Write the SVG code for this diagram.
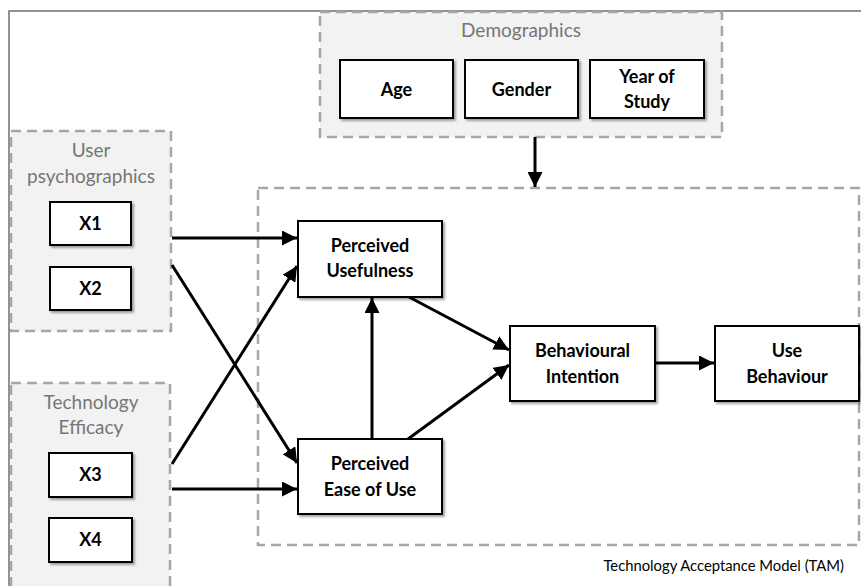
<svg xmlns="http://www.w3.org/2000/svg" width="861" height="586" viewBox="0 0 861 586">
  <defs>
    <marker id="arrow" viewBox="0 0 10 10" refX="10" refY="5" markerWidth="5" markerHeight="5" orient="auto" markerUnits="strokeWidth">
      <path d="M0,0 L10,5 L0,10 z" fill="#000"/>
    </marker>
    <filter id="shadow" x="-10%" y="-10%" width="130%" height="130%">
      <feDropShadow dx="2" dy="2" stdDeviation="1" flood-color="#000" flood-opacity="0.35"/>
    </filter>
  </defs>
  <style>
    .group { fill: #f2f2f2; stroke: #a6a6a6; stroke-width: 2.5; stroke-dasharray: 10 6; }
    .frame { fill: none; stroke: #a6a6a6; stroke-width: 2.5; stroke-dasharray: 10 6; }
    .box { fill: #fff; stroke: #000; stroke-width: 2; filter: url(#shadow); }
    .title { font-family: Lato, "Liberation Sans", sans-serif; font-size: 19px; fill: #767676; text-anchor: middle; }
    .label { font-family: Lato, "Liberation Sans", sans-serif; font-size: 18px; font-weight: bold; fill: #000; text-anchor: middle; }
    .caption { font-family: Lato, "Liberation Sans", sans-serif; font-size: 14.8px; fill: #000; text-anchor: end; }
    .edge { stroke: #000; stroke-width: 3; fill: none; marker-end: url(#arrow); }
  </style>

  <rect width="861" height="586" fill="#fff"/>
  <!-- page border -->
  <path d="M9,586 L9,11 L861,11" fill="none" stroke="#6f6f6f" stroke-width="1.5"/>

  <!-- TAM frame -->
  <g id="tam">
    <rect class="frame" x="258" y="188" width="601" height="357"/>
    <text class="caption" x="844" y="571">Technology Acceptance Model (TAM)</text>
  </g>

  <!-- Demographics -->
  <g id="demographics">
    <rect class="group" x="320" y="12" width="402" height="125"/>
    <text class="title" x="521" y="37">Demographics</text>
  </g>
  <g id="age">
    <rect class="box" x="340" y="60" width="113" height="58"/>
    <text class="label" x="396.5" y="96">Age</text>
  </g>
  <g id="gender">
    <rect class="box" x="465" y="60" width="113" height="58"/>
    <text class="label" x="521.5" y="96">Gender</text>
  </g>
  <g id="year">
    <rect class="box" x="590" y="60" width="114" height="58"/>
    <text class="label" x="647" y="83">Year of</text>
    <text class="label" x="647" y="108">Study</text>
  </g>

  <!-- User psychographics -->
  <g id="psychographics">
    <rect class="group" x="11" y="131" width="160" height="200"/>
    <text class="title" x="91" y="157">User</text>
    <text class="title" x="91" y="183">psychographics</text>
  </g>
  <g id="x1">
    <rect class="box" x="50" y="202" width="81" height="43"/>
    <text class="label" x="90.5" y="230">X1</text>
  </g>
  <g id="x2">
    <rect class="box" x="50" y="267" width="81" height="43"/>
    <text class="label" x="90.5" y="295">X2</text>
  </g>

  <!-- Technology Efficacy -->
  <g id="efficacy">
    <rect class="group" x="11" y="383" width="159" height="215"/>
    <text class="title" x="91" y="409">Technology</text>
    <text class="title" x="91" y="434">Efficacy</text>
  </g>
  <g id="x3">
    <rect class="box" x="49" y="453" width="83" height="44"/>
    <text class="label" x="90.5" y="481">X3</text>
  </g>
  <g id="x4">
    <rect class="box" x="49" y="518" width="83" height="44"/>
    <text class="label" x="90.5" y="546">X4</text>
  </g>

  <!-- TAM constructs -->
  <g id="pu">
    <rect class="box" x="298" y="221" width="144" height="76"/>
    <text class="label" x="370" y="252">Perceived</text>
    <text class="label" x="370" y="277">Usefulness</text>
  </g>
  <g id="peou">
    <rect class="box" x="298" y="439" width="144" height="75"/>
    <text class="label" x="370" y="470">Perceived</text>
    <text class="label" x="370" y="496">Ease of Use</text>
  </g>
  <g id="bi">
    <rect class="box" x="510" y="326" width="145" height="75"/>
    <text class="label" x="582.5" y="357">Behavioural</text>
    <text class="label" x="582.5" y="383">Intention</text>
  </g>
  <g id="ub">
    <rect class="box" x="715" y="326" width="144" height="75"/>
    <text class="label" x="787" y="357">Use</text>
    <text class="label" x="787" y="383">Behaviour</text>
  </g>

  <!-- connectors -->
  <g id="connectors">
    <line class="edge" x1="535" y1="137" x2="535" y2="187"/>
    <line class="edge" x1="172" y1="238" x2="297" y2="238"/>
    <line class="edge" x1="172" y1="265" x2="297" y2="463"/>
    <line class="edge" x1="172" y1="464" x2="297" y2="266"/>
    <line class="edge" x1="172" y1="489" x2="297" y2="489"/>
    <line class="edge" x1="372" y1="439" x2="372" y2="298"/>
    <line class="edge" x1="409" y1="297" x2="509" y2="350"/>
    <line class="edge" x1="408" y1="439" x2="509" y2="365"/>
    <line class="edge" x1="655" y1="363" x2="714" y2="363"/>
  </g>
</svg>
